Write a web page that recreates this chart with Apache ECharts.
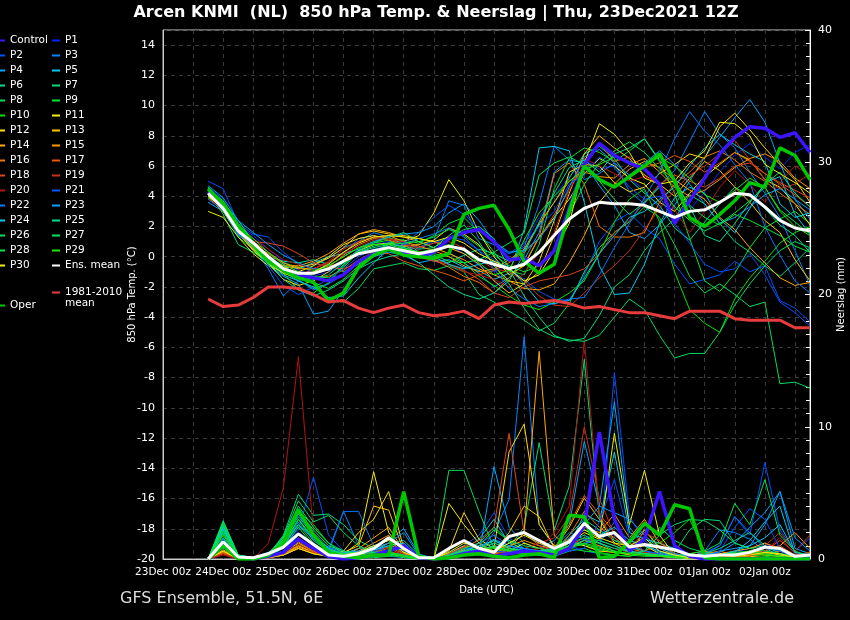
<!DOCTYPE html>
<html>
<head>
<meta charset="utf-8">
<script src="https://cdn.jsdelivr.net/npm/echarts@6/dist/echarts.min.js"></script>
<style>
html,body{margin:0;padding:0;background:#000;}
#chart{width:850px;height:620px;}
</style>
</head>
<body>
<div id="chart"></div>
<script>
// forecast hours since 23Dec2021 00z (6-hourly)
const hours = [18,24,30,36,42,48,54,60,66,72,78,84,90,96,102,108,114,120,126,132,138,144,150,156,162,168,174,180,186,192,198,204,210,216,222,228,234,240,246,252,258];
const tickLabels = ['23Dec 00z','24Dec 00z','25Dec 00z','26Dec 00z','27Dec 00z','28Dec 00z','29Dec 00z','30Dec 00z','31Dec 00z','01Jan 00z','02Jan 00z'];
const memberNames = ['Control','P1','P2','P3','P4','P5','P6','P7','P8','P9','P10','P11','P12','P13','P14','P15','P16','P17','P18','P19','P20','P21','P22','P23','P24','P25','P26','P27','P28','P29','P30'];
const memberColors = ['#3c14ff','#0028ff','#0050ff','#0084ff','#00a8ff','#00ccee','#00dc96','#00dc78','#00dc5a','#00e632','#00e600','#f0f000','#ffdc00','#ffc800','#ffaa00','#ff9600','#f07800','#e65a00','#dc461e','#c83214','#b41414','#0050ff','#0078ff','#00a0ff','#00c8f0','#00dc96','#00dc64','#00e650','#00e632','#1ee600','#f0f000'];

// 850 hPa temperature (°C)
const t_Control = [4.3,3.3,1.8,0.8,-0.2,-0.9,-1.2,-1.4,-1.6,-1.2,-0.3,0.2,0.5,0.2,0.0,0.3,1.2,1.6,1.8,1.0,-0.2,-0.1,-0.6,0.4,3.2,6.1,7.5,6.7,6.2,5.8,4.8,2.2,3.7,5.2,6.8,7.9,8.6,8.5,7.9,8.2,6.9];
const t_P1 = [4.6,3.8,2.0,1.4,0.5,-0.3,-0.9,-1.3,-1.0,-0.6,0.3,0.8,1.0,0.6,0.5,1.0,0.8,0.2,-0.6,-1.0,-0.4,0.8,2.6,4.0,5.3,6.4,5.8,6.0,5.2,4.4,3.2,2.4,3.1,4.3,5.6,6.7,7.5,6.6,5.8,6.9,7.4];
const t_P2 = [5.0,4.5,2.2,1.5,1.3,0.3,-0.5,-1.1,-0.4,0.2,1.2,1.4,1.0,0.9,0.6,0.9,1.3,1.1,0.4,-0.2,-0.8,-1.5,-2.3,-2.8,-2.9,-1.2,1.0,2.3,2.9,1.9,1.2,-0.5,-1.8,-1.5,-1.2,-0.3,-1.0,-0.6,-2.9,-3.4,-4.3];
const t_P3 = [4.0,3.4,1.5,0.6,-0.8,-2.6,-1.6,-0.6,-0.1,0.6,1.0,1.6,1.3,0.8,0.6,1.1,3.7,3.4,1.2,0.8,0.2,0.6,3.5,7.3,6.4,5.1,5.5,6.2,4.3,3.5,4.7,5.7,7.6,9.6,8.1,7.2,5.6,4.2,2.6,0.4,-1.9];
const t_P4 = [3.6,3.0,1.6,0.4,-0.5,-1.3,-1.8,-3.8,-3.6,-2.2,-0.6,0.0,0.3,0.1,-0.4,-0.2,0.3,-0.4,-1.1,-2.0,-1.4,-0.2,1.6,5.6,6.4,6.2,4.7,3.4,1.6,1.2,2.1,3.4,5.0,6.6,7.9,9.2,10.4,8.9,6.2,3.8,2.5];
const t_P5 = [4.4,3.1,1.7,0.5,0.0,-0.6,-0.8,-0.4,0.0,0.2,0.5,0.3,0.6,0.4,0.1,-0.3,-0.2,-0.7,-0.9,-1.5,-1.1,1.8,7.2,7.3,7.0,3.6,-0.6,-2.5,-2.4,-0.5,2.2,3.9,4.6,4.2,2.5,1.6,3.2,4.9,5.3,2.8,1.5];
const t_P6 = [4.0,3.6,2.4,1.0,0.0,-0.3,-0.4,-0.2,-0.5,-1.0,-0.5,0.3,0.9,1.1,0.3,-0.2,-0.4,0.1,0.5,0.2,-0.3,0.4,2.1,3.6,5.2,6.8,7.3,6.5,5.1,4.2,3.4,1.9,1.1,2.3,3.5,4.6,4.0,3.2,2.1,1.4,0.3];
const t_P7 = [4.5,2.8,0.8,0.3,-0.4,-1.0,-1.6,-2.1,-1.8,-0.5,0.3,0.6,0.8,0.7,0.5,0.6,1.2,1.8,2.0,1.2,-0.8,-2.6,-4.0,-5.2,-5.6,-5.4,-3.9,-2.0,-1.2,0.4,1.6,2.5,4.1,3.5,2.2,1.0,0.3,-0.6,-1.3,-0.4,0.6];
const t_P8 = [4.3,3.5,1.9,1.0,-0.1,-0.6,-1.2,-1.8,-2.9,-3.0,-2.1,-0.8,-0.6,-0.4,-0.8,-0.9,-0.6,-1.0,-2.5,-3.0,-3.6,-4.2,-4.9,-4.4,-3.1,-1.0,0.6,1.6,2.3,3.3,2.6,0.8,-1.3,-2.4,-1.8,-2.5,-3.3,-3.0,-8.4,-8.3,-8.7];
const t_P9 = [4.2,3.0,1.4,0.8,0.2,-0.4,-0.7,-0.9,-0.6,0.0,0.6,1.0,1.2,1.1,0.9,1.4,2.2,2.6,1.6,0.3,-0.9,-1.2,0.8,4.5,6.5,7.2,6.9,6.3,7.0,7.8,6.3,4.2,1.2,-1.6,-2.3,-1.1,0.6,1.9,2.5,3.0,2.2];
const t_P10 = [4.6,3.3,1.3,0.5,-0.5,-1.1,-2.2,-2.4,-1.7,-0.6,0.4,0.9,1.1,0.5,0.2,0.2,0.0,-0.4,-1.3,-1.9,-2.6,-3.2,-3.5,-3.0,-2.4,-1.6,0.2,2.3,3.8,4.5,2.3,-1.0,-3.5,-4.4,-5.0,-2.8,-1.4,-0.3,0.9,1.6,2.0];
const t_P11 = [3.0,2.6,1.3,0.2,-0.6,-1.0,-1.0,-0.6,0.0,0.8,1.2,1.4,1.2,1.0,1.4,2.9,5.1,3.7,1.6,0.0,-1.2,-0.6,1.3,2.6,3.8,5.5,6.5,6.0,5.2,4.8,3.6,3.0,4.2,5.3,6.1,6.9,6.4,5.1,4.6,3.5,2.1];
const t_P12 = [4.1,3.2,1.6,0.4,-0.4,-1.5,-1.9,-1.6,-1.0,-0.2,0.4,0.8,0.9,0.7,0.8,1.1,1.9,1.5,0.8,-0.6,-1.6,-1.8,-0.3,2.4,5.6,6.1,6.0,4.9,4.3,4.6,5.5,6.1,6.8,6.5,8.6,9.5,8.4,7.2,6.1,5.1,3.6];
const t_P13 = [4.4,3.4,1.9,0.8,-0.3,-0.7,-0.7,-0.5,-0.1,0.6,1.5,1.7,1.5,1.4,1.2,1.0,0.6,0.2,-0.5,-1.6,-2.4,-1.8,-1.0,1.4,4.2,6.8,8.0,7.2,6.5,5.4,4.8,4.0,5.2,6.3,5.7,4.6,3.6,2.4,1.6,-0.2,-1.6];
const t_P14 = [3.9,3.0,1.5,0.5,-0.2,-0.6,-0.6,-0.3,0.2,0.9,1.5,1.8,1.6,1.3,1.0,0.6,0.2,-0.2,-0.8,-1.2,-1.6,-2.1,-2.2,-1.8,-0.4,1.4,3.6,4.8,5.8,6.3,5.9,5.1,4.4,3.8,2.6,1.8,0.6,-0.4,-1.4,-1.9,-1.7];
const t_P15 = [4.3,3.6,2.0,1.0,0.3,-0.4,-0.8,-0.8,-0.4,0.3,1.0,1.3,1.4,1.0,0.7,0.4,0.0,-0.6,-1.0,-0.8,-0.2,0.5,2.2,3.6,5.0,5.6,5.3,5.2,6.1,6.5,5.6,4.6,4.0,4.4,5.1,5.9,6.5,6.8,6.3,5.2,4.5];
const t_P16 = [4.0,3.3,1.8,0.7,-0.2,-0.9,-1.3,-1.1,-0.7,0.1,0.8,1.2,1.1,0.8,0.2,-0.2,-0.7,-1.3,-1.7,-2.4,-1.4,-0.5,1.3,5.5,6.2,4.8,2.0,1.3,1.3,1.6,3.6,4.8,5.6,6.6,7.0,6.4,5.6,5.0,4.2,3.5,2.8];
const t_P17 = [4.2,3.2,1.7,0.8,0.2,-0.5,-1.0,-1.4,-1.3,-0.9,-0.2,0.3,0.2,-0.3,-0.6,-0.9,-1.2,-1.6,-1.2,-0.9,-0.4,0.3,1.2,2.8,4.4,6.1,7.5,6.3,6.6,5.9,6.2,6.7,6.3,5.6,6.2,6.9,6.3,5.5,4.8,4.1,3.3];
const t_P18 = [4.2,3.3,1.6,1.0,0.9,0.7,0.2,-0.4,-0.7,-0.8,-0.4,0.2,0.6,0.4,0.0,-0.3,-0.5,-0.9,-1.5,-2.4,-2.7,-2.0,-1.6,-1.4,-1.2,-0.8,0.2,1.6,2.4,3.6,4.8,5.4,5.0,4.6,5.2,6.0,6.2,5.5,4.9,4.4,3.9];
const t_P19 = [4.0,3.1,1.7,0.6,-0.3,-1.0,-1.3,-0.8,-0.3,0.5,1.0,1.3,1.2,0.8,0.6,0.9,1.0,0.6,-0.2,-0.8,-1.0,-1.6,-2.6,-3.2,-3.3,-2.4,-1.4,-0.6,0.4,1.8,3.2,4.4,5.4,6.0,6.8,7.7,6.4,5.1,4.5,4.8,5.5];
const t_P20 = [4.1,3.0,1.8,1.2,0.5,-0.2,-0.5,-0.8,-0.4,0.2,0.7,1.1,1.2,1.0,0.4,-0.1,-0.5,-1.0,-1.2,-1.5,-2.0,-1.1,0.3,1.6,4.4,6.5,6.0,5.5,5.0,5.3,4.9,3.1,1.6,3.0,4.6,5.7,4.8,3.6,4.9,6.0,5.4];
const t_P21 = [4.4,3.5,1.5,0.8,-0.6,-1.9,-2.5,-2.0,-1.5,-0.8,0.0,0.5,0.7,0.9,1.6,2.6,3.4,2.8,1.9,1.0,0.2,0.9,2.0,3.0,4.8,5.4,6.6,5.9,4.6,3.8,4.0,2.2,0.9,-0.5,-1.0,-0.8,0.2,-1.2,-3.0,-3.7,-4.6];
const t_P22 = [3.8,3.1,1.4,0.9,0.0,-0.9,-1.5,-2.2,-1.8,-1.2,-0.4,0.3,0.6,0.8,1.2,1.5,1.9,1.3,0.4,-0.8,-2.1,-2.8,-3.3,-3.1,-2.8,-2.7,-1.2,0.6,2.2,3.9,5.6,7.8,9.6,8.3,7.4,6.1,4.9,2.0,0.1,-1.6,-2.4];
const t_P23 = [4.7,3.9,2.4,1.6,0.8,0.1,-0.4,-0.8,-0.9,-0.4,0.5,1.0,1.3,1.5,1.6,2.0,2.9,3.5,2.4,1.0,0.3,0.4,1.2,2.5,4.6,6.6,7.1,6.2,5.4,6.2,7.0,6.1,4.8,3.5,2.2,2.6,3.3,4.1,4.5,3.8,3.1];
const t_P24 = [4.3,3.4,1.6,0.7,-0.4,-1.2,-1.6,-2.0,-2.7,-2.6,-1.4,-0.4,0.5,0.6,0.3,0.0,-0.5,-0.8,-0.5,-0.3,-0.7,-1.8,-3.0,-3.1,-2.9,-1.4,0.2,1.4,2.6,3.0,3.8,4.6,6.0,7.2,8.1,7.4,6.8,6.3,3.5,2.6,2.9];
const t_P25 = [4.1,3.3,1.9,0.6,-0.5,-1.5,-2.2,-2.6,-2.2,-1.6,-0.8,-0.3,0.0,0.2,-0.4,-1.2,-2.0,-2.5,-2.8,-2.4,-1.6,0.2,2.3,4.2,5.9,6.4,5.6,6.8,7.2,7.8,6.4,5.1,3.3,1.4,1.0,2.2,3.6,4.8,5.6,4.2,3.3];
const t_P26 = [4.4,3.0,1.8,0.9,0.1,-0.7,-1.3,-1.5,-1.2,-0.4,0.4,0.9,1.3,1.6,1.0,0.6,1.4,2.1,1.0,-0.6,-1.8,-3.4,-4.8,-5.3,-5.5,-5.6,-5.2,-4.0,-2.8,-3.5,-5.2,-6.7,-6.4,-6.4,-5.0,-3.2,-1.8,-0.6,0.4,1.0,0.6];
const t_P27 = [4.6,3.4,1.7,0.9,-0.1,-0.8,-1.1,-1.3,-1.4,-0.7,0.3,0.7,0.9,0.6,0.3,0.1,-0.3,-0.4,-0.2,0.3,0.9,1.6,5.4,6.2,6.6,6.1,5.0,3.8,2.8,3.6,4.6,3.3,2.4,1.7,2.2,2.9,3.7,4.6,3.1,2.3,1.5];
const t_P28 = [3.9,3.5,2.1,1.2,0.3,-0.5,-1.0,-1.7,-2.1,-1.5,-0.6,0.3,0.8,0.9,1.0,1.3,1.8,1.4,0.7,0.1,-0.6,-1.0,-0.6,0.4,2.8,4.8,6.2,7.0,7.6,6.9,5.8,4.8,3.4,2.6,2.1,2.8,2.4,1.9,1.4,0.7,0.3];
const t_P29 = [4.5,3.7,2.2,1.0,0.0,-0.8,-1.2,-1.0,-0.6,0.0,0.6,0.8,0.8,0.5,0.3,0.5,0.8,0.4,-0.4,-1.2,-0.9,1.1,2.9,4.0,5.0,5.8,6.1,6.6,6.3,6.0,6.6,6.0,5.2,4.1,3.6,4.4,5.2,4.6,3.0,2.0,1.4];
const t_P30 = [4.0,3.2,1.7,0.6,-0.4,-1.1,-1.4,-1.0,-0.5,0.3,0.9,1.3,1.4,1.3,1.2,1.0,1.3,0.9,0.2,-0.3,-0.8,-1.6,-1.2,0.4,2.2,6.2,8.8,8.1,6.9,5.2,4.8,5.0,6.2,7.0,8.9,8.8,8.0,6.1,5.5,4.9,4.2];
const t_Mean = [4.2,3.2,1.7,0.9,0.0,-0.8,-1.1,-1.1,-0.8,-0.3,0.2,0.4,0.6,0.4,0.2,0.4,0.7,0.5,-0.2,-0.5,-0.8,-0.5,0.3,1.4,2.5,3.2,3.6,3.5,3.5,3.4,3.0,2.6,3.0,3.1,3.6,4.2,4.1,3.3,2.4,1.9,1.7];
const t_Oper = [4.5,3.5,2.0,0.8,-0.3,-0.9,-1.4,-1.7,-2.9,-2.4,-0.7,0.1,0.5,0.1,0.0,-0.1,0.2,2.8,3.2,3.4,1.8,-0.3,-1.1,-0.5,3.0,6.0,5.1,4.6,5.3,6.0,6.8,5.0,2.6,2.0,2.8,3.7,4.9,4.6,7.2,6.7,5.1];
const t_Clim = [-2.8,-3.3,-3.2,-2.7,-2.0,-2.0,-2.1,-2.5,-3.0,-2.9,-3.4,-3.7,-3.4,-3.2,-3.7,-3.9,-3.8,-3.6,-4.1,-3.2,-3.0,-3.1,-3.0,-2.9,-3.1,-3.4,-3.3,-3.5,-3.7,-3.7,-3.9,-4.1,-3.6,-3.6,-3.6,-4.1,-4.2,-4.2,-4.2,-4.7,-4.7];

// precipitation (mm)
const p_Control = [0,1.0,0.1,0,0.2,0.5,1.5,0.8,0.2,0,0.1,0.3,0.6,1.0,0.1,0,0.1,0.4,0.6,0.2,0.4,0.6,0.5,0.3,0.8,2.5,9.6,3.0,0.6,1.5,5.1,1.0,0.2,0,0,0,0,0,0,0,0];
const p_P1 = [0,0.8,0,0,0.1,0.6,2.0,1.2,0.3,0.1,0.2,0.5,1.0,0.8,0,0,0.2,0.6,0.8,1.2,0.8,2.0,1.2,0.5,0.8,1.5,2.2,1.8,1.0,0.6,0.4,0.2,0.1,0.3,0.2,0.5,0.8,1.2,0.6,0.1,0.2];
const p_P2 = [0,1.2,0.1,0,0.2,1.0,2.2,6.2,1.8,0.6,0.4,0.3,0.2,0.1,0,0.1,0.5,1.0,1.8,3.5,1.6,0.8,0.3,0.6,1.0,0.6,0.4,14.1,3.2,1.4,0.6,0.3,0.2,0.5,1.0,3.2,1.8,7.3,2.2,0.6,1.6];
const p_P3 = [0,1.5,0.2,0,0.3,0.8,3.0,1.6,0.7,3.6,1.0,0.4,0.6,0.2,0,0,0.3,0.8,0.5,2.0,4.5,16.8,2.6,0.9,2.0,1.5,1.2,2.8,1.0,0.6,0.3,0.2,0.1,0.6,2.2,2.0,1.5,0.6,0.4,0.2,0.3];
const p_P4 = [0,1.9,0.2,0.1,0.4,1.2,2.6,1.5,0.9,0.5,0.6,1.0,1.4,2.3,0.4,0,0.2,0.4,0.3,7.0,2.4,1.2,0.8,1.4,2.6,8.9,4.0,11.9,2.4,1.0,0.5,0.3,0.2,0.3,0.6,0.8,1.0,2.6,5.1,0.8,0.4];
const p_P5 = [0,2.2,0.3,0.1,0.5,1.4,3.2,1.8,0.6,0.4,0.8,0.6,1.2,1.4,0.3,0.1,0.3,0.7,1.5,3.0,1.2,0.8,0.6,0.5,1.0,3.4,2.8,8.1,2.0,1.5,1.2,0.8,0.2,0.1,0.3,0.5,1.4,2.8,4.0,0.4,0.2];
const p_P6 = [0,2.5,0.2,0.1,0.4,1.6,3.8,2.0,0.8,0.3,0.2,0.4,0.6,0.8,0.1,0,0.4,0.9,0.6,1.0,0.6,0.4,0.3,0.6,1.8,3.0,2.2,1.4,0.9,0.6,0.4,0.3,0.2,0.1,0.2,0.4,0.6,0.8,0.3,0.1,0.2];
const p_P7 = [0,2.9,0.3,0,0.3,1.8,4.9,3.3,3.4,2.6,1.4,0.8,0.5,0.3,0.1,0,0.2,0.5,0.8,1.4,0.9,2.4,8.8,2.2,5.5,15.1,3.2,1.4,1.2,2.2,0.9,0.5,2.2,3.0,2.9,1.2,0.8,1.0,0.6,0.3,0.2];
const p_P8 = [0,2.6,0.2,0,0.2,0.8,2.4,1.0,0.6,0.2,0.1,0.1,0.2,0.3,0,0,6.7,6.7,3.6,0.8,0.4,0.6,0.3,0.2,0.6,0.8,0.4,0.3,0.2,0.5,2.4,1.4,0.8,0.5,0.3,0.2,0.6,0.4,0.2,0.1,0];
const p_P9 = [0,2.0,0.1,0,0.3,1.5,3.6,2.6,1.2,0.4,0.3,0.2,0.3,0.1,0,0,0.3,0.6,1.0,2.2,1.4,0.6,0.5,0.8,1.2,1.0,0.7,0.5,0.3,0.2,0.2,0.1,0,0.1,0.2,0.4,0.3,0.2,0.1,0,0.1];
const p_P10 = [0,1.6,0.1,0,0.2,1.1,3.0,1.4,0.6,0.3,0.2,0.3,0.4,0.2,0,0,0.2,0.4,0.6,0.9,0.5,0.4,0.4,0.5,0.8,0.6,0.5,0.3,0.2,0.6,1.2,2.0,3.0,0.6,0.3,0.2,0.4,0.6,0.3,0.1,0];
const p_P11 = [0,0.6,0,0,0.1,0.4,1.0,0.5,0.2,0.4,1.2,6.6,2.0,0.5,0.1,0,4.2,2.6,1.2,0.4,0.6,1.2,0.8,0.6,1.2,2.0,1.5,9.5,2.6,6.7,1.8,0.3,0.1,0,0.1,0.2,0.2,0.1,0,0,0];
const p_P12 = [0,0.5,0,0,0.1,0.3,0.8,0.4,0.2,0.6,2.0,3.0,5.1,0.8,0.2,0,0.6,3.5,1.5,0.8,8.1,10.2,2.6,1.0,1.4,1.0,0.6,0.5,0.8,1.0,0.4,0.2,0,0,0,0.2,0.4,0.3,0.2,0,0];
const p_P13 = [0,0.7,0,0,0.1,0.5,1.2,0.6,0.3,0.5,1.0,4.0,3.7,0.6,0.1,0,0.4,1.0,0.8,0.5,2.0,4.0,3.2,0.8,2.4,4.6,3.0,1.2,0.6,0.4,0.2,0.1,0.2,0.1,0,0.2,0.6,0.5,0.3,0.1,0];
const p_P14 = [0,0.4,0,0,0.1,0.3,0.9,0.5,0.2,0.2,0.8,1.6,2.4,0.6,0.1,0,0.2,0.6,0.4,0.3,0.8,2.0,15.7,1.8,0.8,1.4,1.0,0.6,0.3,2.2,0.8,0.3,0.1,0.2,0.4,0.6,0.8,1.2,0.8,0.3,0.2];
const p_P15 = [0,0.5,0,0,0.1,0.3,1.0,0.5,0.2,0.3,0.6,1.2,1.8,0.5,0.1,0,0.3,0.7,0.5,0.4,1.0,1.4,1.0,0.8,1.5,2.4,2.0,3.4,1.6,3.0,1.2,0.6,0.3,0.4,0.6,0.3,0.4,0.6,1.0,2.0,0.8];
const p_P16 = [0,0.6,0,0,0.1,0.4,1.3,0.6,0.3,0.2,0.4,0.8,1.2,0.4,0.1,0,0.2,0.5,0.6,1.0,0.8,0.6,0.8,0.6,1.8,3.6,2.4,1.6,0.8,0.5,0.3,0.2,0.4,0.6,0.3,0.2,0.3,0.4,0.6,0.2,0.1];
const p_P17 = [0,0.5,0,0,0.2,0.4,1.1,0.6,0.2,0.2,0.3,0.6,0.9,0.4,0.1,0,0.3,0.8,1.2,0.6,0.4,0.5,0.6,0.8,2.6,4.8,3.4,2.0,1.2,0.6,1.0,0.4,0.2,0.1,0.2,0.3,0.5,0.8,1.0,0.3,0.5];
const p_P18 = [0,0.6,0,0,0.2,0.5,1.6,0.8,0.3,0.2,0.3,0.5,0.8,0.3,0.1,0,0.4,0.9,1.4,2.4,9.5,2.0,1.0,0.6,1.0,1.6,1.2,0.8,0.5,0.4,0.3,0.2,0.1,0.1,0.2,0.3,0.2,0.6,1.4,0.5,0.3];
const p_P19 = [0,0.4,0,0,0.1,0.3,0.8,0.5,0.2,0.1,0.2,0.4,0.6,0.3,0,0,0.2,0.5,0.8,0.4,0.6,0.8,1.2,1.6,3.2,10.0,4.6,1.8,0.9,2.0,1.4,0.4,0.2,0.1,0.1,0.2,0.4,1.0,2.0,0.6,1.8];
const p_P20 = [0,0.3,0,0,1.2,5.4,15.3,2.0,0.4,0.2,0.1,0.3,0.5,0.2,0,0,0.1,0.4,0.6,0.3,0.5,0.6,0.8,2.0,4.0,16.6,3.5,1.0,0.6,0.5,0.3,0.2,0.1,0,0.1,0.2,0.3,0.6,1.6,0.4,0.2];
const p_P21 = [0,1.0,0.1,0,0.2,0.6,1.8,1.0,0.4,0.3,0.4,0.6,1.0,0.6,0.1,0,0.3,0.8,0.4,0.6,0.5,0.8,0.6,0.4,0.6,0.8,2.8,6.0,1.6,0.6,0.4,0.2,0.1,0.2,0.6,2.4,3.8,3.0,0.8,0.3,0.2];
const p_P22 = [0,1.3,0.1,0,0.3,0.8,2.5,1.6,0.5,3.6,3.6,1.0,0.5,0.3,0.1,0,0.2,0.6,1.2,1.8,1.0,0.6,0.4,0.6,0.8,1.2,1.4,1.0,0.6,0.4,0.3,0.2,0.2,0.4,1.0,3.2,2.0,0.8,0.6,0.2,0.1];
const p_P23 = [0,1.6,0.2,0,0.3,0.9,2.8,1.4,0.6,0.5,0.6,0.8,1.2,2.0,0.3,0,0.2,0.5,0.8,1.5,1.0,0.8,0.6,0.8,1.6,2.6,4.0,3.5,3.0,1.8,0.8,0.4,0.2,0.3,0.5,1.2,2.4,3.5,5.1,1.6,0.6];
const p_P24 = [0,2.3,0.2,0.1,0.4,1.3,3.4,1.8,0.8,0.4,0.5,0.7,1.0,1.2,0.2,0,0.3,0.6,1.0,1.4,0.8,0.6,0.5,0.7,1.4,2.2,1.8,2.4,1.4,1.0,0.6,0.3,0.2,0.1,0.3,0.6,1.0,1.6,2.6,0.5,0.3];
const p_P25 = [0,2.4,0.2,0,0.3,1.4,3.6,2.2,1.0,0.6,0.4,0.5,0.6,0.8,0.1,0,0.2,0.5,0.7,1.0,0.6,0.5,0.6,0.8,1.4,1.8,1.2,0.8,0.6,0.4,0.3,0.2,0.2,0.4,0.8,1.4,2.0,1.0,0.4,0.2,0.1];
const p_P26 = [0,2.7,0.3,0,0.3,1.7,4.4,2.8,3.3,2.0,1.0,0.5,0.4,0.2,0.1,0,0.3,0.8,1.2,2.4,1.4,1.0,0.8,0.6,1.0,1.4,1.2,0.6,0.4,0.6,1.8,2.6,3.0,2.9,2.2,1.2,0.8,0.6,0.4,0.2,0.1];
const p_P27 = [0,2.8,0.3,0.1,0.4,1.6,4.0,2.4,1.2,0.6,0.4,0.3,0.4,0.2,0,0,0.3,0.6,0.8,1.2,0.8,0.6,0.5,0.6,1.2,1.6,1.4,1.0,0.5,0.4,0.3,0.2,0.4,0.6,1.2,4.2,2.6,6.0,1.8,0.6,0.2];
const p_P28 = [0,2.1,0.2,0,0.3,1.2,3.0,1.6,0.7,0.4,0.3,0.4,0.5,0.3,0.1,0,0.2,0.4,0.6,0.9,0.7,0.6,0.5,0.6,1.0,1.2,0.9,0.6,0.4,0.3,0.2,0.1,0.1,0.2,0.3,0.5,0.6,0.4,0.2,0.1,0];
const p_P29 = [0,1.8,0.1,0,0.2,1.0,2.6,1.2,0.5,0.3,0.3,0.4,0.5,0.2,0,0,0.2,0.4,0.5,0.8,0.6,0.5,0.4,0.5,0.9,1.1,0.8,0.5,0.4,0.3,0.2,0.2,0.1,0.1,0.2,0.4,0.5,0.3,0.2,0,0];
const p_P30 = [0,0.6,0,0,0.1,0.3,0.8,0.4,0.2,0.3,0.5,1.0,1.4,0.5,0.1,0,0.5,1.2,0.9,0.6,1.2,1.8,1.2,0.8,1.4,2.2,1.6,1.2,1.0,1.6,0.6,0.3,0.1,0,0.1,0.2,0.3,0.5,0.4,0.1,0];
const p_Mean = [0,1.3,0.15,0.1,0.4,0.9,1.9,1.1,0.3,0.2,0.4,0.8,1.6,0.8,0.1,0.1,0.8,1.4,0.8,0.5,1.7,2.0,1.4,0.8,1.3,2.7,1.7,2.0,0.9,1.1,0.9,0.7,0.3,0.2,0.3,0.3,0.5,0.9,0.8,0.2,0.3];
const p_Oper = [0,1.0,0,0,0.3,1.2,3.7,1.8,0.5,0.2,0.1,0.3,0.3,5.1,0.2,0,0.1,0.3,0.4,0.2,0.1,0.3,0.4,0.1,3.3,3.2,0.1,0.2,1.3,2.7,1.8,4.1,3.8,0.1,0,0,0,0,0,0,0];

const tempMembers = [t_Control,t_P1,t_P2,t_P3,t_P4,t_P5,t_P6,t_P7,t_P8,t_P9,t_P10,t_P11,t_P12,t_P13,t_P14,t_P15,t_P16,t_P17,t_P18,t_P19,t_P20,t_P21,t_P22,t_P23,t_P24,t_P25,t_P26,t_P27,t_P28,t_P29,t_P30];
const precMembers = [p_Control,p_P1,p_P2,p_P3,p_P4,p_P5,p_P6,p_P7,p_P8,p_P9,p_P10,p_P11,p_P12,p_P13,p_P14,p_P15,p_P16,p_P17,p_P18,p_P19,p_P20,p_P21,p_P22,p_P23,p_P24,p_P25,p_P26,p_P27,p_P28,p_P29,p_P30];

function pairs(vals){ return vals.map((v,i)=>[hours[i], v]); }

const FONT = 'DejaVu Sans';
const series = [];
function addLine(name, vals, color, width, z, yIdx){
  series.push({
    name: name, type: 'line', yAxisIndex: yIdx, data: pairs(vals),
    symbol: 'none', showSymbol: false, z: z,
    lineStyle: {color: color, width: width}, itemStyle: {color: color},
    emphasis: {disabled: true}, animation: false
  });
}
for (let k = 1; k < memberNames.length; k++) {
  addLine(memberNames[k], precMembers[k], memberColors[k], 1, 2, 1);
  addLine(memberNames[k], tempMembers[k], memberColors[k], 1, 2, 0);
}
addLine('Control', p_Control, memberColors[0], 3.5, 3, 1);
addLine('Control', t_Control, memberColors[0], 3.5, 3, 0);
addLine('Oper', p_Oper, '#00c800', 3.5, 4, 1);
addLine('Oper', t_Oper, '#00c800', 3.5, 4, 0);
addLine('Ens. mean', p_Mean, '#ffffff', 3, 5, 1);
addLine('Ens. mean', t_Mean, '#ffffff', 3, 5, 0);
addLine('1981-2010 mean', t_Clim, '#e83c3c', 3, 5, 0);

const leftCol = ['Control','P2','P4','P6','P8','P10','P12','P14','P16','P18','P20','P22','P24','P26','P28','P30'];
const rightCol = ['P1','P3','P5','P7','P9','P11','P13','P15','P17','P19','P21','P23','P25','P27','P29','Ens. mean'];

function legend(data, left, top, extra){
  return Object.assign({
    data: data, orient: 'vertical', left: left, top: top, padding: 0,
    itemGap: 0, itemWidth: 7, itemHeight: 2, icon: 'rect',
    textStyle: {color: '#ffffff', fontFamily: FONT, fontSize: 10.5, lineHeight: 15},
    inactiveColor: '#555'
  }, extra || {});
}

const chart = echarts.init(document.getElementById('chart'), null, {renderer: 'canvas'});
chart.setOption({
  backgroundColor: '#000000',
  animation: false,
  title: {
    text: 'Arcen KNMI  (NL)  850 hPa Temp. & Neerslag | Thu, 23Dec2021 12Z',
    left: 431, top: 0, textAlign: 'center',
    textStyle: {color: '#ffffff', fontFamily: FONT, fontSize: 16, fontWeight: 'bold'}
  },
  legend: [
    legend(leftCol, -2, 33),
    legend(rightCol, 52, 33, {itemWidth: 8}),
    legend(['1981-2010 mean'], 52, 285, {itemWidth: 8, formatter: function(){ return '1981-2010'; }}),
    legend(['Oper'], -2, 298)
  ],
  graphic: [
    {type: 'text', left: 65, top: 298, style: {text: 'mean', fill: '#ffffff', font: '10.5px "DejaVu Sans"'}},
    {type: 'text', left: 120, top: 591, style: {text: 'GFS Ensemble, 51.5N, 6E', fill: '#dddddd', font: '16px "DejaVu Sans"'}},
    {type: 'text', right: 56, top: 591, style: {text: 'Wetterzentrale.de', fill: '#dddddd', font: '16px "DejaVu Sans"'}}
  ],
  grid: {left: 163, right: 40, top: 30, bottom: 61, show: true, borderColor: '#cccccc', borderWidth: 1, backgroundColor: '#000', containLabel: false, outerBoundsMode: 'none'},
  xAxis: {
    type: 'value', min: 0, max: 258, interval: 12,
    name: 'Date (UTC)', nameLocation: 'middle', nameGap: 26, nameMoveOverlap: false,
    nameTextStyle: {color: '#ffffff', fontFamily: FONT, fontSize: 10},
    axisLine: {show: true, onZero: false, lineStyle: {color: '#cccccc'}},
    axisTick: {show: false},
    axisLabel: {
      color: '#ffffff', fontFamily: FONT, fontSize: 10.5, margin: 8, hideOverlap: false,
      formatter: function(v){ return (v % 24 === 0 && v / 24 < tickLabels.length) ? tickLabels[v / 24] : ''; }
    },
    splitLine: {show: true, lineStyle: {color: '#3a3a3a', type: [4, 4], width: 1}}
  },
  yAxis: [
    {
      type: 'value', min: -20, max: 15, interval: 2, position: 'left',
      name: '850 hPa Temp. (°C)', nameLocation: 'middle', nameGap: 26, nameRotate: 90, nameMoveOverlap: false,
      nameTextStyle: {color: '#ffffff', fontFamily: FONT, fontSize: 10},
      axisLine: {show: true, onZero: false, lineStyle: {color: '#cccccc'}},
      axisTick: {show: false},
      axisLabel: {color: '#ffffff', fontFamily: FONT, fontSize: 11, margin: 8, showMaxLabel: false,
        formatter: function(v){ return v === 15 ? '' : String(v); }},
      splitLine: {show: true, lineStyle: {color: '#3a3a3a', type: [4, 4], width: 1}}
    },
    {
      type: 'value', min: 0, max: 40, interval: 10, position: 'right',
      name: 'Neerslag (mm)', nameLocation: 'middle', nameGap: 26, nameRotate: 90, nameMoveOverlap: false,
      nameTextStyle: {color: '#ffffff', fontFamily: FONT, fontSize: 10},
      axisLine: {show: true, onZero: false, lineStyle: {color: '#ffffff'}},
      axisTick: {show: true, inside: true, length: 5, lineStyle: {color: '#ffffff'}},
      minorTick: {show: true, splitNumber: 10, length: 4, lineStyle: {color: '#ffffff'}},
      axisLabel: {color: '#ffffff', fontFamily: FONT, fontSize: 11, margin: 8},
      splitLine: {show: false}
    }
  ],
  series: series
});
</script>
</body>
</html>
